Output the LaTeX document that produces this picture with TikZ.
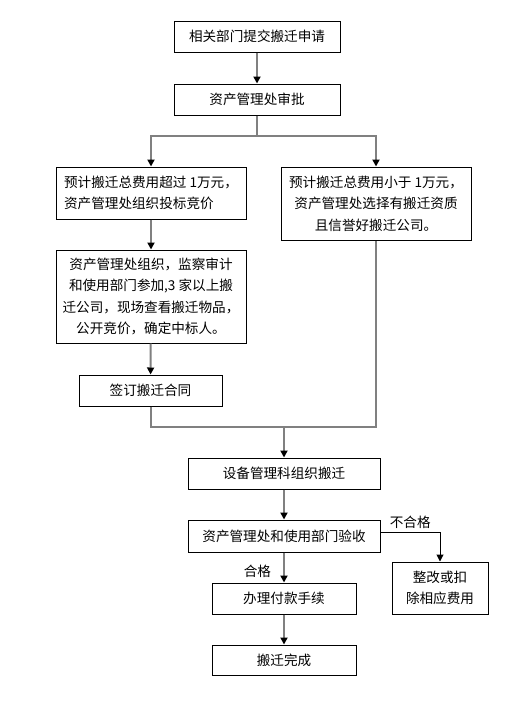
\documentclass[tikz,border=0pt]{standalone}
\usepackage{fontspec}
\setmainfont{Noto Sans CJK SC}
\usepackage{xcolor}
\definecolor{flowgray}{RGB}{128,128,128}
\usetikzlibrary{arrows.meta, positioning}
\tikzset{
  procbox/.style={draw=black, line width=1pt, fill=white, align=center, inner sep=2pt,
                  font=\fontsize{13.6}{21.6}\selectfont},
  link/.style={draw=flowgray, line width=2pt},
  flow/.style={link, -{Triangle[color=black, length=7pt, width=7pt]}},
  flowthin/.style={draw=black, line width=1pt, -{Triangle[length=7pt, width=7pt]}},
  flowlabel/.style={font=\fontsize{13.6}{16}\selectfont, inner sep=1pt}
}

\begin{document}
\begin{tikzpicture}[x=1pt, y=-1pt]
  \useasboundingbox (0,0) rectangle (529,713);

  % Application and approval
  \node[procbox, minimum width=166, minimum height=31] (apply) at (257,36.5) {相关部门提交搬迁申请};
  \node[procbox, minimum width=166, minimum height=31] (approve) at (257,99.5) {资产管理处审批};

  % Branch -- over 1 (left) / under 1 (right)
  \node[procbox, minimum width=190, minimum height=52, align=left] (over) at (151,193)
       {预计搬迁总费用超过 1万元，\\资产管理处组织投标竞价};
  \node[procbox, minimum width=190, minimum height=73] (under) at (376,203.5)
       {预计搬迁总费用小于 1万元，\\资产管理处选择有搬迁资质\\且信誉好搬迁公司。};
  \node[procbox, minimum width=190, minimum height=93] (bidding) at (151,296.5)
       {资产管理处组织，监察审计\\和使用部门参加,3 家以上搬\\迁公司，现场查看搬迁物品，\\公开竞价，确定中标人。};
  \node[procbox, minimum width=143, minimum height=31] (contract) at (150.5,390.5) {签订搬迁合同};

  % Moving and acceptance
  \node[procbox, minimum width=192, minimum height=31] (moving) at (284,473.5) {设备管理科组织搬迁};
  \node[procbox, minimum width=192, minimum height=32] (accept) at (284,536) {资产管理处和使用部门验收};
  \node[procbox, minimum width=144, minimum height=31] (payment) at (284,598.5) {办理付款手续};
  \node[procbox, minimum width=144, minimum height=30] (done) at (284,660) {搬迁完成};
  \node[procbox, minimum width=96, minimum height=52] (rectify) at (440,588) {整改或扣\\除相应费用};

  \coordinate (split) at (257,136);
  \coordinate (merge) at (284,427);

  % Connectors
  \draw[flow] (apply) -- (approve);
  \draw[link] (approve) -- (split);
  \draw[flow] (split) -| (over);
  \draw[flow] (split) -| (under);
  \draw[flow] (over) -- (bidding);
  \draw[flow] (bidding) -- (contract);
  \draw[link] (contract) |- (merge) -| (under);
  \draw[flow] (merge) -- (moving);
  \draw[flow] (moving) -- (accept);
  \draw[flow] (accept) -- node[flowlabel, pos=0.62, left=11pt] {合格} (payment);
  \draw[flow] (payment) -- (done);
  \draw[flowthin] ([yshift=4pt]accept.east) -| node[flowlabel, pos=0.25, above=2pt] {不合格} (rectify);
\end{tikzpicture}
\end{document}
